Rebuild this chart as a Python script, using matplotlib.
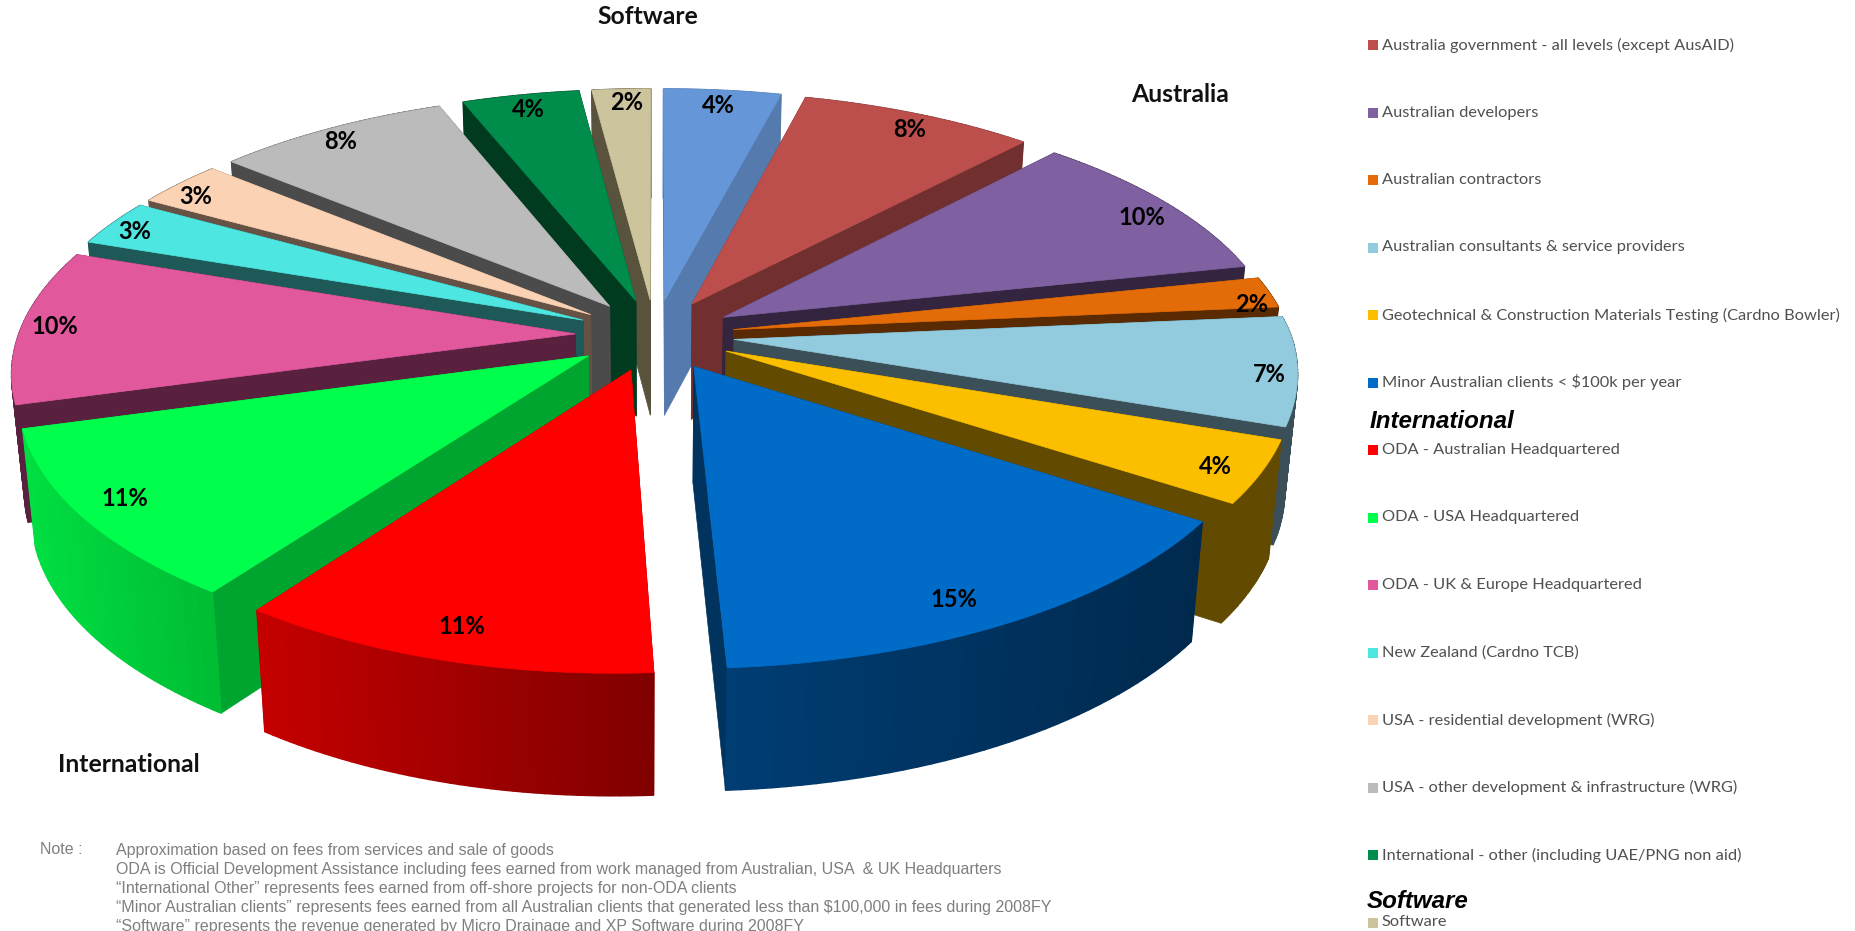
import numpy as np
import matplotlib
matplotlib.use('Agg')
import matplotlib.pyplot as plt
from matplotlib.patches import Polygon, Rectangle

# fee share of each client group, clockwise from 12 o'clock
names = ['Minor software', 'Australia government - all levels (except AusAID)', 'Australian developers',
         'Australian contractors', 'Australian consultants & service providers',
         'Geotechnical & Construction Materials Testing (Cardno Bowler)',
         'Minor Australian clients < $100k per year', 'ODA - Australian Headquartered',
         'ODA - USA Headquartered', 'ODA - UK & Europe Headquartered', 'New Zealand (Cardno TCB)',
         'USA - residential development (WRG)', 'USA - other development & infrastructure (WRG)',
         'International - other (including UAE/PNG non aid)', 'Software']
values = [4, 8, 10, 2, 7, 4, 15, 11, 11, 10, 3, 3, 8, 4, 2]

top_cols = ['#6496D8', '#BC4F4C', '#7F60A0', '#E36C09', '#92CBDD', '#FBBF00', '#006CC8', '#FF0000',
            '#00FF4D', '#E1589D', '#4DE6E1', '#FBD3B4', '#BBBBBB', '#008C4B', '#CCC49C']
cut_cols = ['#557AAE', '#722F30', '#33243F', '#5A2A02', '#3A4F58', '#624B00', '#00335E', '#A00000',
            '#00A530', '#59213E', '#1E5958', '#655244', '#4B4B4B', '#003A1F', '#59533E']
# outer wall shading, left end to right end of the rim
wall_left = ['#557AAE', '#722F30', '#33243F', '#5A2A02', '#3A4F58', '#624B00', '#003D73', '#C40000',
             '#00DF42', '#59213E', '#1E5958', '#655244', '#4B4B4B', '#003A1F', '#59533E']
wall_right = ['#557AAE', '#722F30', '#33243F', '#5A2A02', '#3A4F58', '#624B00', '#00294D', '#7E0000',
              '#00BB33', '#59213E', '#1E5958', '#655244', '#4B4B4B', '#003A1F', '#59533E']

legend_aus = names[1:7]
legend_aus_cols = top_cols[1:7]
legend_int = names[7:14]
legend_int_cols = top_cols[7:14]
legend_sw = ['Software']
legend_sw_cols = [top_cols[14]]

note_lines = ['Approximation based on fees from services and sale of goods',
              'ODA is Official Development Assistance including fees earned from work managed from Australian, USA  & UK Headquarters',
              '\u201cInternational Other\u201d represents fees earned from off-shore projects for non-ODA clients',
              '\u201cMinor Australian clients\u201d represents fees earned from all Australian clients that generated less than $100,000 in fees during 2008FY',
              '\u201cSoftware\u201d represents the revenue generated by Micro Drainage and XP Software during 2008FY']

# perspective of the pie
cx, cy = 655, 335
R = 557
tilt = 250
persp = 0.14
explode = 0.143
depth = 116
lean = 14
label_r = [0.92, 0.92, 0.92, 0.955, 0.95, 0.925, 0.90, 0.90, 0.915, 0.94, 0.94, 0.935, 0.93, 0.92, 0.93]
label_da = [0, 1, 2, 2.6, 1.2, 1, 2.5, 0, 1, 0, -1, -1.6, -1, 0, 0.5]


def project(X, Y, z=0.0):
    # ground point plus drop z (0 top, 1 bottom) to pixel position
    s = 1 / (1 + persp * Y)
    x = cx + R * X * s * (1 - 0.02 * z)
    # front half leans a little to the left, fading out on the far left
    x = x + lean * np.minimum(Y, 0) * np.clip((X + 0.7) / 0.7, 0, 1)
    y = cy - tilt * Y * s + z * depth * (1 - 0.05 * Y)
    return x, y


fig = plt.figure(figsize=(18.56, 9.31), dpi=100)
ax = fig.add_axes([0, 0, 1, 1])
ax.set_xlim(0, 1856)
ax.set_ylim(931, 0)
ax.axis('off')

vals = np.array(values, dtype=float)
edges = np.concatenate([[0], np.cumsum(vals)]) / vals.sum() * 2 * np.pi
mids = (edges[:-1] + edges[1:]) / 2

# back slices first so the front ones overlap them
order = np.argsort(-np.cos(mids))
for i in order:
    ox, oy = explode * np.sin(mids[i]), explode * np.cos(mids[i])
    th = np.linspace(edges[i], edges[i + 1], 40)
    X = ox + np.sin(th)
    Y = oy + np.cos(th)

    # the two cut faces
    for k in [0, -1]:
        a0 = project(ox, oy)
        a1 = project(X[k], Y[k])
        b1 = project(X[k], Y[k], 1)
        b0 = project(ox, oy, 1)
        ax.add_patch(Polygon([a0, a1, b1, b0], closed=True, fc=cut_cols[i], ec=cut_cols[i], lw=0.5))

    # rim, shaded strip by strip
    xt, yt = project(X, Y)
    xb, yb = project(X, Y, 1)
    c0 = np.array(matplotlib.colors.to_rgb(wall_left[i]))
    c1 = np.array(matplotlib.colors.to_rgb(wall_right[i]))
    span = max(xt.max() - xt.min(), 1)
    for j in range(len(th) - 1):
        f = (min(xt[j], xt[j + 1]) - xt.min()) / span
        col = c0 + (c1 - c0) * f
        ax.add_patch(Polygon([(xt[j], yt[j]), (xt[j + 1], yt[j + 1]), (xb[j + 1], yb[j + 1]), (xb[j], yb[j])],
                             closed=True, fc=col, ec=col, lw=1))

    # top face
    ax0, ay0 = project(ox, oy)
    pts = [(ax0, ay0)] + list(zip(xt, yt))
    ax.add_patch(Polygon(pts, closed=True, fc=top_cols[i], ec=top_cols[i], lw=0.5))

# percentage labels on the top faces
for i in range(len(values)):
    ang = mids[i] + np.radians(label_da[i])
    px = explode * np.sin(mids[i]) + label_r[i] * np.sin(ang)
    py = explode * np.cos(mids[i]) + label_r[i] * np.cos(ang)
    lx, ly = project(px, py)
    ax.text(lx, ly, '%d%%' % values[i], family='Lato', weight='bold', fontsize=17, color='black',
            ha='center', va='center')

# group names around the pie
for txt, tx, ty in [('Software', 648, 17), ('Australia', 1180, 95), ('International', 129, 765)]:
    ax.text(tx, ty, txt, family='Lato', weight='bold', fontsize=17.8, color='#111111', ha='center', va='center')


def legend_row(y, label, col):
    ax.add_patch(Rectangle((1368, y - 5), 10, 10, fc=col, ec='none'))
    ax.text(1382, y, label, family='Lato', fontsize=11.8, color='#505050', ha='left', va='center')


row_y = 45
step = 67.5
for label, col in zip(legend_aus, legend_aus_cols):
    legend_row(row_y, label, col)
    row_y += step
ax.text(1370, 422, 'International', family='Liberation Sans', weight='bold', style='italic', fontsize=17.4,
        color='black', ha='left', va='center')
for label, col in zip(legend_int, legend_int_cols):
    legend_row(row_y, label, col)
    row_y += step
ax.text(1367, 901, 'Software', family='Liberation Sans', weight='bold', style='italic', fontsize=17.4,
        color='black', ha='left', va='center')
for label, col in zip(legend_sw, legend_sw_cols):
    legend_row(row_y, label, col)

# footnote
ax.text(40, 850, 'Note :', family='Liberation Sans', fontsize=11.55, color='#7F7F7F', ha='left', va='center')
for n, line in enumerate(note_lines):
    ax.text(116, 850 + n * 19.2, line, family='Liberation Sans', fontsize=11.55, color='#7F7F7F',
            ha='left', va='center')

fig.savefig('out.png', dpi=100)
